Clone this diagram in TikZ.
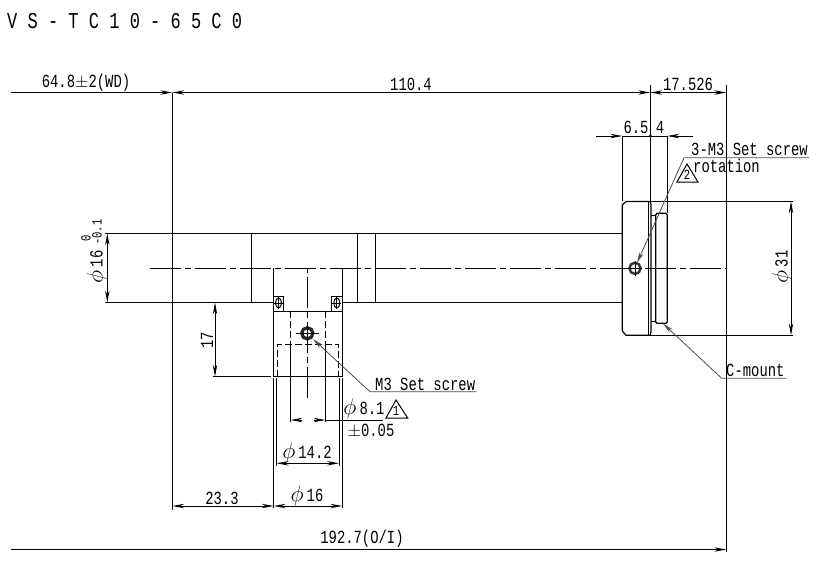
\documentclass[tikz,border=0pt]{standalone}
\usepackage{fontspec}
\setmainfont[FakeStretch=0.75]{Liberation Mono}
\usetikzlibrary{arrows.meta}
\usetikzlibrary{positioning}
\newcommand{\dia}{\scalebox{1.3}{$\phi$}\,}
\tikzset{
  part/.style = {line width=1.2pt},
  thinpart/.style = {line width=1pt},
  hidden/.style = {line width=1pt, dash pattern=on 7pt off 3pt},
  axis/.style = {line width=1pt, dash pattern=on 31pt off 4pt on 6pt off 4pt},
  dimline/.style = {line width=1pt, {Stealth[length=12pt,width=4.4pt]}-{Stealth[length=12pt,width=4.4pt]}},
  dimend/.style = {line width=1pt, -{Stealth[length=12pt,width=4.4pt]}},
  leader/.style = {line width=.8pt, black!70},
  lbl/.style = {inner sep=0pt, font=\fontsize{18.5}{19}\selectfont},
  smalllbl/.style = {inner sep=0pt, font=\fontsize{14}{14}\selectfont},
}
\begin{document}
\begin{tikzpicture}[x=1pt,y=-1pt]
  \useasboundingbox (0,0) rectangle (833,573);

  % dimension points
  \coordinate (tl) at (11,92.5);
  \coordinate (wd) at (172.3,92.5);
  \coordinate (fl) at (650.3,92.5);
  \coordinate (im) at (726.3,92.5);
  \coordinate (bl) at (11,549.5);
  \coordinate (br) at (726.3,549.5);
  \coordinate (scl) at (596,136);
  \coordinate (sa) at (622.3,136);
  \coordinate (sb) at (650.3,136);
  \coordinate (sc) at (667.3,136);
  \coordinate (scr) at (693,136);

  % barrel
  \draw[part] (105,233.3) -- (622.3,233.3);
  \draw[part] (105,302.5) -- (273.3,302.5);
  \draw[part] (342.3,302.5) -- (622.3,302.5);
  \foreach \bx in {251.3,357.3,375.3}
    \draw[part] (\bx,233.3) -- (\bx,302.5);

  % flange and thread
  \draw[part] (622.3,205) -- (626,201.4) -- (650,201.4) -- (651,204) -- (651,332) -- (650,335.3)
    -- (626,335.3) -- (622.3,331) -- cycle;
  \draw[thinpart] (648.3,201.4) -- (648.3,335.3);
  \draw[part] (626,201.4) -- (793,201.4);
  \draw[part] (626,335.3) -- (793,335.3);
  \draw[part] (657,213.3) -- (666,213.3) -- (667.3,215) -- (667.3,322) -- (666,323.3)
    -- (657,323.3) -- (655.7,322) -- (655.7,215) -- cycle;
  \draw[thinpart] (651,215) -- (655.7,215);
  \draw[thinpart] (651,321.7) -- (655.7,321.7);
  \draw[line width=2.4pt,black!80] (635,268.3) circle (5.6pt);
  \draw[thinpart] (628,268.3) -- (642,268.3);
  \draw[thinpart] (635,261) -- (635,276);

  % stem
  \draw[part] (273.3,268.3) -- (273.3,376.7) -- (342.3,376.7) -- (342.3,268.3);
  \draw[thinpart] (273.3,311.4) -- (342.3,311.4);
  \foreach \cx/\rx in {273.3/283.7,331.3/342.3} {
    \draw[thinpart] (\cx,296) rectangle (\rx,311.4);
  }
  \foreach \cx in {278.5,336.8} {
    \draw[thinpart] (\cx,303) ellipse (3pt and 5pt);
    \draw[thinpart] (\cx,297) -- (\cx,309);
    \draw[thinpart] (\cx-4.5,303) -- (\cx+4.5,303);
  }
  \draw[hidden] (290.5,311) -- (290.5,345);
  \draw[hidden] (325.5,311) -- (325.5,345);
  \draw[hidden] (277.3,376.7) -- (277.3,344.3) -- (338.6,344.3) -- (338.6,376.7);
  \draw[line width=3.2pt,black!85] (307.3,333.3) circle (5.6pt);
  \draw[thinpart] (296,333.3) -- (319,333.3);

  % center lines
  \draw[axis] (150,268.3) -- (726.3,268.3);
  \draw[axis] (307.3,398) -- (307.3,268.3);

  % extension lines
  \draw[thinpart] (172.3,92.5) -- (172.3,510);
  \draw[thinpart] (650.3,85) -- (650.3,201);
  \draw[thinpart] (726.3,85) -- (726.3,552);
  \draw[thinpart] (622.3,136) -- (622.3,201);
  \draw[thinpart] (667.3,136) -- (667.3,213.3);
  \draw[thinpart] (213,376.7) -- (271,376.7);
  \draw[thinpart] (273.7,378) -- (273.7,508);
  \draw[thinpart] (342.3,378) -- (342.3,508);
  \draw[thinpart] (276.7,378) -- (276.7,466);
  \draw[thinpart] (339,378) -- (339,466);
  \draw[thinpart] (290.5,345) -- (290.5,422);
  \draw[thinpart] (325.5,345) -- (325.5,422);

  % dimensions
  \draw[dimend] (tl) -- (wd);
  \draw[dimline] (wd) -- (fl);
  \draw[dimline] (fl) -- (im);
  \draw[dimend] (bl) -- (br);
  \draw[dimend] (scl) -- (sa);
  \draw[thinpart] (sa) -- (sc);
  \draw[dimend] (scr) -- (sc);
  \fill (sb) circle (1.5pt);
  \draw[dimline] (107.3,233.3) -- (107.3,302.5);
  \draw[dimline] (215,302.5) -- (215,376.7);
  \draw[dimline] (791,201.4) -- (791,335.3);
  \draw[dimline] (276.7,463.3) -- (339,463.3);
  \draw[dimline] (273.7,506) -- (342.3,506);
  \draw[dimline] (172.3,506) -- (273.7,506);
  \draw[thinpart] (325.5,420) -- (383,420);
  \draw[dimend] (302,420) -- (290.5,420);
  \draw[dimend] (314,420) -- (325.5,420);

  % leaders
  \draw[leader,-{Stealth[length=11pt,width=4.4pt]}] (809,157.7) -- (684,157.7) -- (637,263);
  \draw[leader,-{Stealth[length=11pt,width=4.4pt]}] (786.7,378.3) -- (721.7,378.3) -- (663,323.5);
  \draw[leader,-{Stealth[length=11pt,width=4.4pt]}] (476.7,391.7) -- (370,391.7) -- (313,339);

  % revision marks
  \draw[thinpart] (687,164) -- (677,182) -- (698,182) -- cycle;
  \draw[thinpart] (396,400) -- (386,418) -- (407.7,418) -- cycle;

  % texts
  \node[inner sep=0pt, anchor=west, font=\fontsize{22.7}{23}\selectfont] (title) at (7,21) {V S - T C 1 0 - 6 5 C 0};
  \node[lbl] (wdtext) at (86,83) {64.8$\pm$2(WD)};
  \node[lbl] (lentext) at (411,84) {110.4};
  \node[lbl] (imtext) at (688,84) {17.526};
  \node[lbl] (atext) at (636,127) {6.5};
  \node[lbl] (btext) at (660,127) {4};
  \node[lbl, anchor=west] (settext) at (691,149) {3-M3 Set screw};
  \node[lbl, anchor=west] (rottext) at (693,166) {rotation};
  \node[smalllbl] (twotext) at (687,175) {2};
  \node[lbl, rotate=90] (odtext) at (782,267) {\dia31};
  \node[lbl, anchor=west] (mounttext) at (726,370) {C-mount};
  \node[lbl, rotate=90] (stemtext) at (97,267) {\dia16};
  \node[smalllbl, rotate=90] (toltext) at (97,232) {-0.1};
  \node[smalllbl, rotate=90] (zerotext) at (86,238) {0};
  \node[lbl, rotate=90] (hgttext) at (207,340) {17};
  \node[lbl, anchor=west] (m3text) at (375,384) {M3 Set screw};
  \node[lbl] (boretext) at (364,409) {\dia8.1};
  \node[smalllbl] (onetext) at (396,411) {1};
  \node[lbl] (tolbtext) at (371,431) {$\pm$0.05};
  \node[lbl] (threadtext) at (307,453) {\dia14.2};
  \node[lbl] (outertext) at (307,496) {\dia16};
  \node[lbl] (offtext) at (222,498) {23.3};
  \node[lbl] (alltext) at (362,539) {192.7(O/I)};
\end{tikzpicture}
\end{document}
